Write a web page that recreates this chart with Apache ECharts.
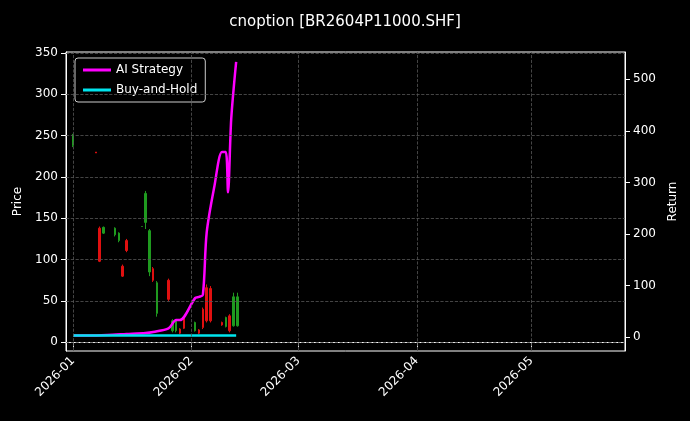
<!DOCTYPE html>
<html><head><meta charset="utf-8">
<script src="https://cdn.jsdelivr.net/npm/echarts@6/dist/echarts.min.js"></script>
<style>html,body{margin:0;background:#000}#c{width:690px;height:421px}</style>
</head><body><div id="c"></div>
<script>
const candleDates = ['2026-01-01','2026-01-07','2026-01-08','2026-01-09','2026-01-12','2026-01-13','2026-01-14','2026-01-15','2026-01-19','2026-01-20','2026-01-21','2026-01-22','2026-01-23','2026-01-26','2026-01-27','2026-01-28','2026-01-29','2026-01-30','2026-02-02','2026-02-03','2026-02-04','2026-02-05','2026-02-06','2026-02-09','2026-02-10','2026-02-11','2026-02-12','2026-02-13'];
// [open, close, low, high]
const candleOHLC = [
[238,250,236,252],[230,229,229,230],[138,98,97,140],[132,139,131,140],[130,138,128,139],[123,132,121,133],[92,80,79,94],[123,111,109,125],[140,140,140,140],[145,180,137,183],[85,135,80,137],[89,75,73,91],[35,72,31,74],[75,52,50,77],[14,26,12,28],[14,26,12,28],[16,11,10,17],[29,17,16,31],[14,24,13,25],[15,11,10,16],[40,18,16,42],[66,26,24,70],[65,26,24,68],[24,21,20,25],[19,30,18,31],[32,14,12,34],[20,55,19,60],[20,55,19,60]];
const lineDates = ['2026-01-01','2026-01-05','2026-01-10','2026-01-15','2026-01-20','2026-01-22','2026-01-26','2026-01-28','2026-01-29','2026-02-02','2026-02-03','2026-02-04','2026-02-05','2026-02-07','2026-02-09','2026-02-10','2026-02-10 14:00','2026-02-11 10:00','2026-02-12 17:00'];
const aiReturn = [3,3,4,6,8,10,17,33,33,76,78,82,203,292,359,359,281,423,534];
const bhReturn = [3,3,3,3,3,3,3,3,3,3,3,3,3,3,3,3,3,3,3];
const monthTicks = ['2026-01-01','2026-02-01','2026-03-01','2026-04-01','2026-05-01'];

const up='#1f9a1f', down='#e01010';
const chart = echarts.init(document.getElementById('c'));
const t = s => new Date(s.replace(' ','T')+(s.length>10?':00':'T00:00:00')).getTime();
const gridLines = monthTicks.map(d=>({xAxis:t(d)})).concat([0,50,100,150,200,250,300,350].map(v=>({yAxis:v})));
chart.setOption({
  backgroundColor:'#000',
  animation:false,
  title:{text:'cnoption [BR2604P11000.SHF]',left:'center',top:10,textStyle:{color:'#fff',fontSize:15,fontWeight:'normal',fontFamily:'DejaVu Sans'}},
  grid:{left:66,right:65,top:52,bottom:70,show:true,borderColor:'#fff',borderWidth:1},
  legend:{left:75,top:58,orient:'vertical',itemWidth:28,itemHeight:3,itemGap:8,padding:[6,8],
    backgroundColor:'#000',borderColor:'#ccc',borderWidth:1,borderRadius:3,
    textStyle:{color:'#fff',fontSize:12,fontFamily:'DejaVu Sans'},
    data:[{name:'AI Strategy',icon:'rect'},{name:'Buy-and-Hold',icon:'rect'}]},
  xAxis:{type:'value',min:t('2025-12-30 04:00'),max:t('2026-05-25 12:00'),
    axisLine:{lineStyle:{color:'#fff'}},
    splitLine:{show:false},
    axisLabel:{color:'#fff',rotate:45,fontSize:12,fontFamily:'DejaVu Sans',
      customValues:monthTicks.map(t),
      formatter:v=>{const d=new Date(v);return d.getFullYear()+'-'+String(d.getMonth()+1).padStart(2,'0');}},
    axisTick:{customValues:monthTicks.map(t),lineStyle:{color:'#fff'}}
  },
  yAxis:[
    {type:'value',min:-10.5,max:351,name:'Price',nameLocation:'middle',nameGap:42,
     nameTextStyle:{color:'#fff',fontSize:12,fontFamily:'DejaVu Sans'},
     axisLine:{show:true,lineStyle:{color:'#fff'}},
     axisLabel:{color:'#fff',fontSize:12,fontFamily:'DejaVu Sans',customValues:[0,50,100,150,200,250,300,350]},
     axisTick:{show:true,customValues:[0,50,100,150,200,250,300,350],lineStyle:{color:'#fff'}},
     splitLine:{show:false}},
    {type:'value',min:-27,max:553,name:'Return',nameLocation:'middle',nameGap:40,
     nameTextStyle:{color:'#fff',fontSize:12,fontFamily:'DejaVu Sans'},
     axisLine:{show:true,lineStyle:{color:'#fff'}},
     axisLabel:{color:'#fff',fontSize:12,fontFamily:'DejaVu Sans',customValues:[0,100,200,300,400,500]},
     axisTick:{show:true,customValues:[0,100,200,300,400,500],lineStyle:{color:'#fff'}},
     splitLine:{show:false}}
  ],
  series:[
    {type:'line',yAxisIndex:0,data:[],markLine:{silent:true,symbol:'none',label:{show:false},animation:false,
     lineStyle:{color:'#555',type:'dashed',width:0.8},data:gridLines}},
    {type:'candlestick',yAxisIndex:0,barWidth:2,
     data:candleDates.map((d,i)=>[t(d),...candleOHLC[i]]),
     encode:{x:0,y:[1,2,3,4]},
     itemStyle:{color:up,color0:down,borderColor:up,borderColor0:down,borderWidth:1}},
    {name:'AI Strategy',type:'line',yAxisIndex:1,showSymbol:false,smooth:0.3,
     data:lineDates.map((d,i)=>[t(d),aiReturn[i]]),lineStyle:{color:'#ff00ff',width:2.5},itemStyle:{color:'#ff00ff'}},
    {name:'Buy-and-Hold',type:'line',yAxisIndex:1,showSymbol:false,
     data:lineDates.map((d,i)=>[t(d),bhReturn[i]]),lineStyle:{color:'#00e5ee',width:2.5},itemStyle:{color:'#00e5ee'}}
  ]
});
</script></body></html>
